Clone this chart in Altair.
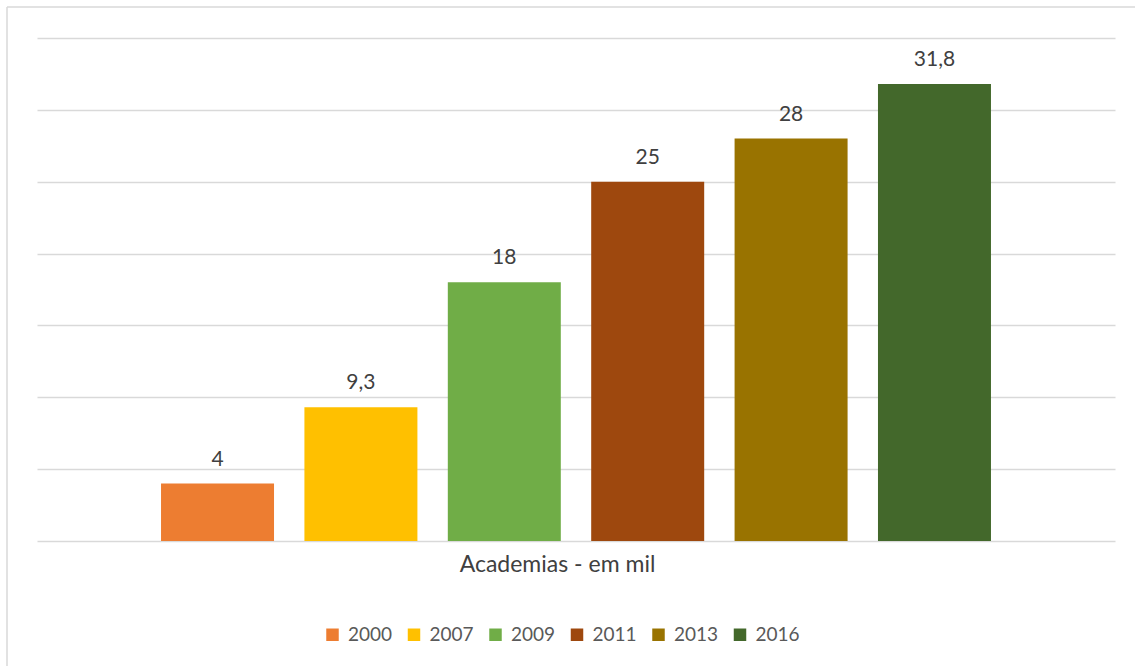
import altair as alt
import pandas as pd

# Number of gyms in Brazil (thousands), by year
years = ["2000", "2007", "2009", "2011", "2013", "2016"]
values = [4, 9.3, 18, 25, 28, 31.8]
colors = ["#ED7D31", "#FFC000", "#70AD47", "#9E480E", "#997300", "#43682B"]
category = "Academias - em mil"
y_ticks = [0, 5, 10, 15, 20, 25, 30, 35]

df = pd.DataFrame({
    "ano": years,
    "valor": values,
    "rotulo": [f"{v:g}".replace(".", ",") for v in values],
})

FONT = "Lato"
PLOT_W, PLOT_H = 1078, 503
PAD = {"left": 37, "top": 38, "right": 20, "bottom": 125}

x_enc = alt.X(
    "ano:N",
    sort=years,
    scale=alt.Scale(paddingInner=0.212, paddingOuter=0.865),
    axis=alt.Axis(
        title=category, labels=False, ticks=False, domain=False, grid=False,
        titleFont=FONT, titleFontSize=23, titleFontWeight="normal",
        titleColor="#404040", titleX=520, titleY=30, titleAlign="center",
        titleBaseline="alphabetic", titleAnchor="start",
    ),
)
y_scale = alt.Scale(domain=[0, 35], nice=False, zero=True)

bars = alt.Chart(df).mark_bar(size=113).encode(
    x=x_enc,
    y=alt.Y(
        "valor:Q", scale=y_scale,
        axis=alt.Axis(
            values=y_ticks, labels=False, ticks=False, domain=False, title=None,
            grid=True, gridColor="#d9d9d9", gridWidth=1.5,
        ),
    ),
    color=alt.Color(
        "ano:N",
        sort=years,
        scale=alt.Scale(domain=years, range=colors),
        legend=alt.Legend(
            title=None, orient="none", direction="horizontal",
            legendX=286, legendY=587,
            symbolType="square", symbolSize=156, symbolStrokeWidth=0,
            symbolOpacity=1, labelOffset=6, columnPadding=11.5,
            labelFont=FONT, labelFontSize=19, labelColor="#595959",
        ),
    ),
)

labels = alt.Chart(df).mark_text(
    font=FONT, fontSize=21, color="#404040", baseline="alphabetic", dy=-18,
).encode(
    x=alt.X("ano:N", sort=years),
    y=alt.Y("valor:Q", scale=y_scale),
    text="rotulo:N",
)

# Frame of the chart area (top and left edges)
frame_df = pd.DataFrame({"k": [0]})
frame_top = alt.Chart(frame_df).mark_rule(color="#d9d9d9", strokeWidth=1.5).encode(
    x=alt.value(-30), x2=alt.value(PLOT_W + 40), y=alt.value(-31),
)
frame_left = alt.Chart(frame_df).mark_rule(color="#d9d9d9", strokeWidth=1.5).encode(
    x=alt.value(-30), y=alt.value(-31), y2=alt.value(PLOT_H + 130),
)

chart = alt.layer(bars, labels, frame_top, frame_left).properties(
    width=PLOT_W,
    height=PLOT_H,
    padding=PAD,
    autosize=alt.AutoSizeParams(type="none"),
    background="white",
).configure_view(stroke=None)

chart.save("out.html", embed_options={"renderer": "svg", "actions": False})
